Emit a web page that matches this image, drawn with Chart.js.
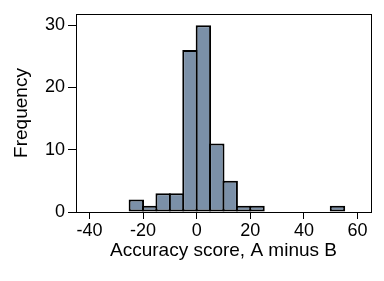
<!DOCTYPE html>
<html lang="en">
<head>
    <meta charset="UTF-8">
    <title>Accuracy score histogram</title>
    <script src="https://cdn.jsdelivr.net/npm/chart.js"></script>
    <style>
        body {
            margin: 0;
            background: #fff;
        }
        .wrap {
            width: 384px;
            height: 281px;
        }
    </style>
</head>
<body>
    <div class="wrap"><canvas id="hist" width="384" height="281"></canvas></div>

    <script>
        // histogram bins (left edge of each bin) and counts, bin width 5
        const binStarts = [-25, -20, -15, -10, -5, 0, 5, 10, 15, 20, 50];
        const binWidth = 5;
        const counts = [2, 1, 3, 3, 26, 30, 11, 5, 1, 1, 1];
        const xTicks = [-40, -20, 0, 20, 40, 60];
        const yTicks = [0, 10, 20, 30];

        const font = { family: "'Liberation Sans', Arial, sans-serif", size: 18 };
        const titleFont = { family: "'Liberation Sans', Arial, sans-serif", size: 19 };

        // draw the box around the plot area
        const frame = {
            id: "frame",
            afterDraw(chart) {
                const a = chart.chartArea;
                const ctx = chart.ctx;
                ctx.save();
                ctx.strokeStyle = "#000";
                ctx.lineWidth = 1;
                ctx.strokeRect(Math.round(a.left) + 0.5, Math.round(a.top) + 0.5,
                    Math.round(a.right - a.left), Math.round(a.bottom - a.top));
                ctx.restore();
            }
        };

        new Chart(document.getElementById("hist"), {
            type: "bar",
            data: {
                datasets: [{
                    data: binStarts.map((s, i) => ({ x: s + binWidth / 2, y: counts[i] })),
                    backgroundColor: "#7b90a8",
                    borderColor: "#000",
                    borderWidth: 2,
                    borderSkipped: false,
                    barPercentage: 1.15,
                    categoryPercentage: 1
                }]
            },
            options: {
                responsive: false,
                animation: false,
                layout: { padding: { top: 14, right: 13, left: 0, bottom: 19 } },
                plugins: {
                    legend: { display: false },
                    tooltip: { enabled: false }
                },
                scales: {
                    x: {
                        type: "linear",
                        offset: false,
                        min: -45,
                        max: 65,
                        afterFit(s) { s.height = 50; },
                        afterBuildTicks(s) { s.ticks = xTicks.map(v => ({ value: v })); },
                        ticks: { stepSize: 20, color: "#000", font: font, padding: 1, maxRotation: 0 },
                        grid: { offset: false, drawOnChartArea: false, color: "#000", tickLength: 7 },
                        border: { color: "#000", width: 1 },
                        title: {
                            display: true,
                            text: "Accuracy score, A minus B",
                            color: "#000",
                            font: titleFont,
                            padding: { top: 0, bottom: 0 }
                        }
                    },
                    y: {
                        min: 0,
                        max: 31.8,
                        afterFit(s) { s.width = 76; },
                        afterBuildTicks(s) { s.ticks = yTicks.map(v => ({ value: v })); },
                        ticks: { stepSize: 10, color: "#000", font: font, padding: 3 },
                        grid: { drawOnChartArea: false, color: "#000", tickLength: 8 },
                        border: { color: "#000", width: 1 },
                        title: {
                            display: true,
                            text: "Frequency",
                            color: "#000",
                            font: titleFont,
                            padding: { top: 10, bottom: 0 }
                        }
                    }
                }
            },
            plugins: [frame]
        });
    </script>
</body>
</html>
